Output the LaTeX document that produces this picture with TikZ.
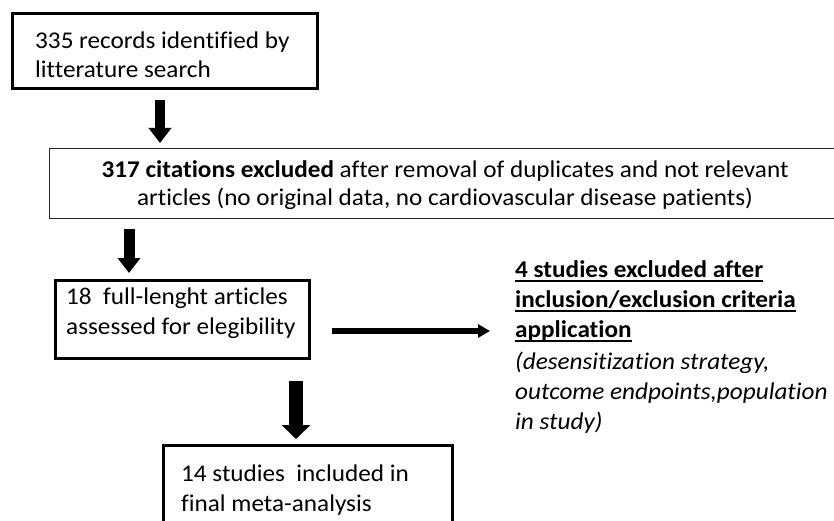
\documentclass[tikz,border=0pt]{standalone}
\usepackage{fontspec}
\setmainfont{Carlito}[Ligatures={TeX,NoCommon},FakeStretch=1.05]
\usetikzlibrary{arrows.meta}
\newcommand{\ulx}[1]{\leavevmode\setbox0\hbox{#1}\rlap{\copy0}\rule[-4.8pt]{\wd0}{1.6pt}}
\begin{document}
\begin{tikzpicture}[x=1pt,y=-1pt,
  thickbox/.style={draw=black,line width=2.6pt,inner sep=0pt,anchor=north west},
  thinbox/.style={draw=black!85,line width=1.1pt,inner sep=0pt,anchor=north west},
  txt/.style={inner sep=0pt,font=\fontsize{24}{29.5}\selectfont,align=left,anchor=north west},
  bigarrow/.style={-{Triangle[width=22pt,length=15pt]},line width=9.5pt},
  hugearrow/.style={-{Triangle[width=28pt,length=14pt]},line width=14pt},
  sidearrow/.style={-{Triangle[width=13pt,length=12pt]},line width=6pt}
]
\useasboundingbox (0,0) rectangle (834,521);
\clip (0,0) rectangle (834,521);
\fill[white] (0,0) rectangle (834,521);

\node[thickbox,minimum width=305pt,minimum height=75pt] (b1) at (11,12) {};
\node[thinbox,minimum width=786pt,minimum height=70pt] (b2) at (49,148) {};
\node[thickbox,minimum width=254pt,minimum height=78pt] (b3) at (54,279) {};
\node[thickbox,minimum width=289pt,minimum height=100pt] (b4) at (162,444) {};

\node[txt,font=\fontsize{24}{28.5}\selectfont] (t1) at (35,32) {335 records identified by\\litterature search};
\node[txt,font=\fontsize{24}{28}\selectfont,anchor=north,align=center] (t2) at (445,160) {\textbf{317 citations excluded} after removal of duplicates and not relevant\\articles (no original data, no cardiovascular disease patients)};
\node[txt] (t3) at (66,288) {18\ \ full-lenght articles\\assessed for elegibility};
\node[txt] (t4) at (181,465) {14 studies\ \ included in\\final meta-analysis};
\node[txt,font=\fontsize{24}{30}\selectfont] (ex) at (515,260) {\ulx{\textbf{4 studies excluded after}}\\\ulx{\textbf{inclusion/exclusion criteria}}\\\ulx{\textbf{application}}\\[2pt]\textit{(desensitization strategy,}\\\textit{outcome endpoints,population}\\\textit{in study)}};

\coordinate (x1) at (160,0);
\coordinate (x2) at (129,0);
\coordinate (x3) at (296,0);
\coordinate (yh) at (0,331);

\draw[bigarrow,shorten <=10pt,shorten >=5pt] (b1.south -| x1) -- (b2.north -| x1);
\draw[bigarrow,line width=11pt,shorten <=10pt,shorten >=6pt] (b2.south -| x2) -- (b3.north -| x2);
\draw[hugearrow,shorten <=21pt,shorten >=5pt] (b3.south -| x3) -- (b4.north -| x3);
\draw[sidearrow,shorten <=21pt,shorten >=25pt] (b3.east |- yh) -- (ex.west |- yh);
\end{tikzpicture}
\end{document}
